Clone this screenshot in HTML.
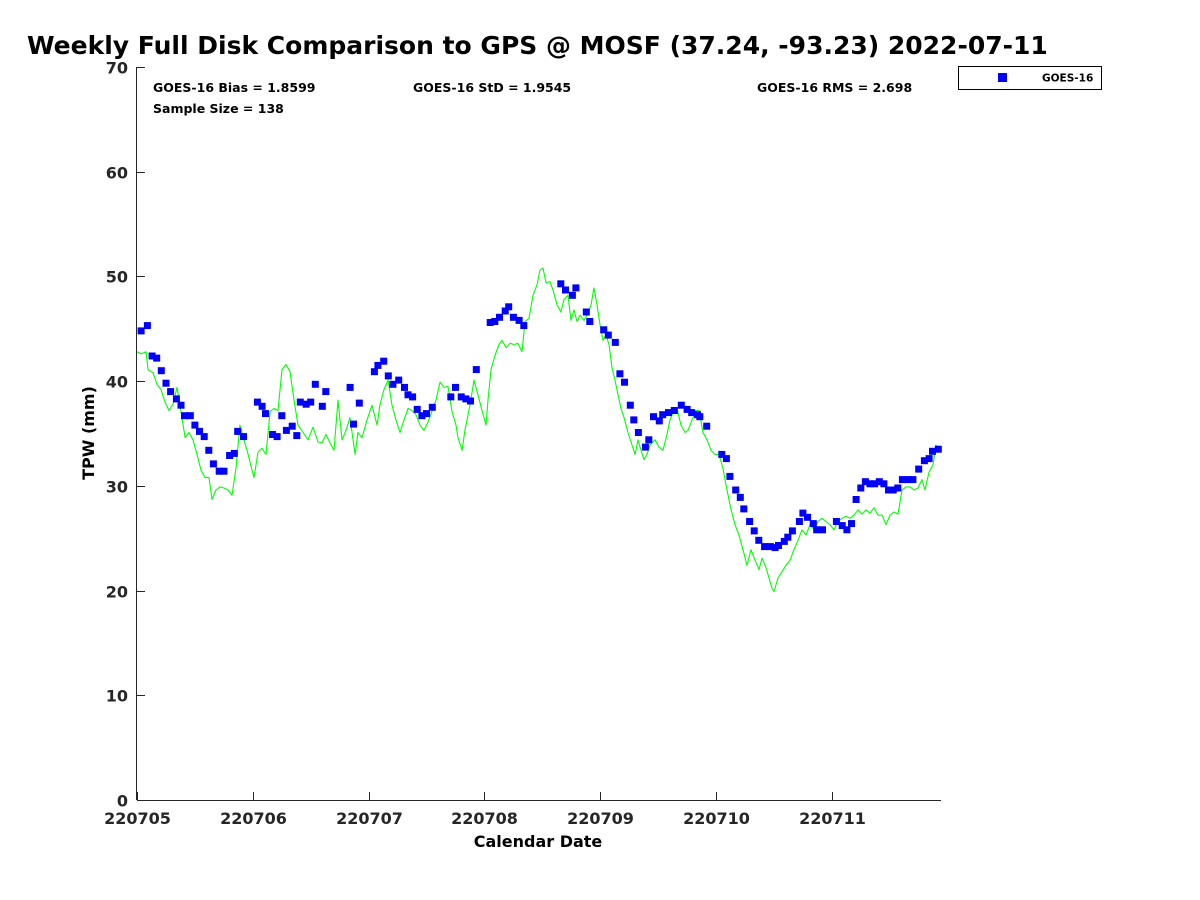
<!DOCTYPE html>
<html><head><meta charset="utf-8"><style>
html,body{margin:0;padding:0;background:#fff;}
svg{display:block;font-family:"DejaVu Sans","Liberation Sans",sans-serif;font-weight:bold;}
</style></head><body>
<svg id="chart" width="1200" height="900" viewBox="0 0 1200 900" xmlns="http://www.w3.org/2000/svg">
<text x="27" y="54" font-size="25" fill="#000">Weekly Full Disk Comparison to GPS @ MOSF (37.24, -93.23) 2022-07-11</text>
<g id="axes"></g>
<g id="series"></g>
<text x="153" y="92" font-size="12.5">GOES-16 Bias = 1.8599</text>
<text x="153" y="113" font-size="12.5">Sample Size = 138</text>
<text x="413" y="92" font-size="12.5">GOES-16 StD = 1.9545</text>
<text x="757" y="92" font-size="12.5">GOES-16 RMS = 2.698</text>
<g>
<rect x="958.5" y="66.5" width="143" height="23" fill="#fff" stroke="#000" stroke-width="1"/>
<rect x="998" y="73" width="9" height="9" fill="#0000ff"/>
<text x="1042" y="81.5" font-size="10.5">GOES-16</text>
</g>
<text x="538" y="847" font-size="16" text-anchor="middle">Calendar Date</text>
<text transform="translate(94,433) rotate(-90)" font-size="16" text-anchor="middle">TPW (mm)</text>
</svg>
<script>
const xTickLabels = ["220705","220706","220707","220708","220709","220710","220711"];
const yTicks = [0,10,20,30,40,50,60,70];
const goesDays = [0.035,0.09,0.13,0.17,0.21,0.25,0.29,0.34,0.38,0.41,0.46,0.50,0.54,0.58,0.62,0.66,0.71,0.75,0.80,0.84,0.87,0.92,1.04,1.08,1.11,1.17,1.21,1.25,1.29,1.34,1.38,1.41,1.46,1.50,1.54,1.60,1.63,1.84,1.87,1.92,2.05,2.08,2.13,2.17,2.21,2.26,2.31,2.34,2.38,2.42,2.46,2.50,2.55,2.71,2.75,2.80,2.84,2.88,2.93,3.05,3.09,3.13,3.18,3.21,3.25,3.30,3.34,3.66,3.70,3.76,3.79,3.88,3.91,4.03,4.07,4.13,4.17,4.21,4.26,4.29,4.33,4.39,4.42,4.46,4.51,4.54,4.59,4.64,4.70,4.75,4.79,4.84,4.86,4.92,5.05,5.09,5.12,5.17,5.21,5.24,5.29,5.33,5.37,5.42,5.47,5.51,5.54,5.59,5.62,5.66,5.72,5.75,5.79,5.84,5.87,5.92,6.04,6.09,6.13,6.17,6.21,6.25,6.29,6.33,6.37,6.41,6.45,6.49,6.53,6.57,6.61,6.66,6.70,6.75,6.80,6.84,6.87,6.92];
const goesVals = [44.8,45.3,42.4,42.2,41.0,39.8,39.0,38.3,37.7,36.7,36.7,35.8,35.2,34.7,33.4,32.1,31.4,31.4,32.9,33.1,35.2,34.7,38.0,37.6,36.9,34.9,34.7,36.7,35.3,35.7,34.8,38.0,37.8,38.0,39.7,37.6,39.0,39.4,35.9,37.9,40.9,41.5,41.9,40.5,39.7,40.1,39.4,38.7,38.5,37.3,36.7,36.9,37.5,38.5,39.4,38.5,38.3,38.1,41.1,45.6,45.7,46.1,46.7,47.1,46.1,45.8,45.3,49.3,48.7,48.2,48.9,46.6,45.7,44.9,44.4,43.7,40.7,39.9,37.7,36.3,35.1,33.7,34.4,36.6,36.2,36.8,37.0,37.2,37.7,37.3,37.0,36.8,36.6,35.7,33.0,32.6,30.9,29.6,28.9,27.8,26.6,25.7,24.8,24.2,24.2,24.1,24.3,24.7,25.1,25.7,26.6,27.4,27.0,26.4,25.8,25.8,26.6,26.2,25.8,26.4,28.7,29.8,30.4,30.2,30.2,30.4,30.2,29.6,29.6,29.8,30.6,30.6,30.6,31.6,32.4,32.6,33.3,33.5];
const gpsDays = [0,0.035,0.078,0.095,0.138,0.173,0.207,0.242,0.276,0.311,0.345,0.380,0.415,0.449,0.484,0.518,0.553,0.587,0.622,0.648,0.682,0.717,0.751,0.786,0.820,0.855,0.889,0.924,0.959,0.993,1.010,1.045,1.079,1.114,1.149,1.183,1.218,1.252,1.287,1.321,1.356,1.390,1.434,1.477,1.520,1.563,1.598,1.632,1.667,1.701,1.736,1.770,1.805,1.839,1.883,1.908,1.943,1.986,2.029,2.073,2.098,2.133,2.168,2.202,2.237,2.271,2.306,2.340,2.375,2.409,2.444,2.478,2.513,2.547,2.582,2.617,2.651,2.686,2.720,2.755,2.772,2.807,2.832,2.876,2.910,2.945,2.979,3.014,3.031,3.057,3.092,3.126,3.152,3.187,3.221,3.256,3.290,3.325,3.351,3.385,3.420,3.454,3.480,3.506,3.532,3.566,3.592,3.627,3.661,3.687,3.722,3.748,3.774,3.800,3.826,3.860,3.895,3.921,3.946,3.972,3.998,4.024,4.050,4.076,4.102,4.128,4.154,4.180,4.206,4.240,4.275,4.301,4.326,4.352,4.378,4.404,4.430,4.473,4.508,4.542,4.577,4.603,4.637,4.663,4.698,4.732,4.758,4.793,4.827,4.853,4.888,4.922,4.957,4.991,5.026,5.060,5.095,5.130,5.164,5.199,5.233,5.268,5.302,5.337,5.371,5.397,5.432,5.458,5.484,5.501,5.535,5.570,5.604,5.639,5.674,5.708,5.743,5.777,5.812,5.846,5.881,5.915,5.950,5.984,6.019,6.054,6.088,6.123,6.157,6.192,6.226,6.261,6.295,6.330,6.364,6.399,6.434,6.468,6.503,6.537,6.572,6.606,6.641,6.675,6.710,6.744,6.779,6.805,6.839,6.874,6.900,6.917,6.943];
const gpsVals = [42.8,42.6,42.8,41.1,40.8,39.7,39.2,38.0,37.2,37.8,39.4,37.1,34.6,35.1,34.4,33.0,31.5,30.8,30.8,28.7,29.6,29.9,29.8,29.6,29.1,31.7,35.8,34.4,33.0,31.5,30.8,33.2,33.6,33.0,37.1,37.4,37.2,41.1,41.6,40.9,38.2,35.8,35.1,34.4,35.6,34.2,34.1,34.9,34.1,33.4,38.2,34.4,35.3,36.5,33.0,35.1,34.6,36.3,37.7,35.8,37.7,39.2,40.1,37.7,36.3,35.1,36.3,37.4,37.2,36.8,35.8,35.3,36.1,37.1,38.2,39.9,39.4,39.5,37.1,35.8,34.6,33.4,35.3,37.7,40.1,38.7,37.2,35.8,38.2,41.1,42.5,43.5,43.9,43.2,43.6,43.5,43.6,42.8,45.7,46.0,48.2,49.2,50.6,50.8,49.4,49.5,48.7,47.3,46.6,47.8,48.2,45.8,46.8,45.7,46.3,45.8,46.5,47.3,48.9,47.3,45.4,43.9,44.4,43.5,41.3,40.1,38.7,37.4,36.5,35.1,33.9,33.0,34.4,33.4,32.5,33.0,33.9,34.4,33.7,33.4,34.9,36.3,37.2,37.4,35.8,35.1,35.3,36.3,37.2,37.2,35.1,34.4,33.4,33.0,33.0,31.7,29.6,27.7,26.3,25.3,23.9,22.4,23.9,22.9,22.0,23.1,22.2,21.2,20.2,19.9,21.2,21.8,22.4,22.9,23.9,24.8,25.8,25.3,26.3,25.8,26.6,26.9,26.6,26.3,25.8,26.6,26.9,27.1,26.9,27.2,27.7,27.3,27.7,27.4,27.9,27.2,27.2,26.3,27.2,27.5,27.3,29.6,29.9,29.9,29.6,29.8,30.6,29.6,31.3,32.0,33.9,33.2,33.6];

const NS = "http://www.w3.org/2000/svg";
const X0 = 137, X1 = 941, Y0 = 800, Y1 = 67;
const xMax = 6.943, yMax = 70;
function xScale(d){ return X0 + d * (X1 - X0) / xMax; }
function yScale(v){ return Y0 - v * (Y0 - Y1) / yMax; }
function mk(tag, attrs, parent){ const e = document.createElementNS(NS, tag); for (const k in attrs) e.setAttribute(k, attrs[k]); parent.appendChild(e); return e; }

const axes = document.getElementById('axes');
const xAxis = mk('line', {x1:X0, y1:Y0+0.5, x2:X1, y2:Y0+0.5, stroke:'#262626', 'stroke-width':1}, axes);


const yAxis = mk('line', {x1:X0-0.5, y1:Y1, x2:X0-0.5, y2:Y0, stroke:'#262626', 'stroke-width':1}, axes);



yTicks.forEach(v => {
  const y = Math.round(yScale(v)) + 0.5;
  mk('line', {x1:X0, y1:y, x2:X0+8, y2:y, stroke:'#262626', 'stroke-width':1}, axes);
  const t = mk('text', {x:X0-9, y:y+6, 'font-size':16, 'text-anchor':'end', fill:'#262626'}, axes);
  t.textContent = v;
  
  
});
xTickLabels.forEach((lab, i) => {
  const x = Math.round(xScale(i)) + 0.5;
  mk('line', {x1:x, y1:Y0, x2:x, y2:Y0-8, stroke:'#262626', 'stroke-width':1}, axes);
  const t = mk('text', {x:x, y:824, 'font-size':16, 'text-anchor':'middle', fill:'#262626'}, axes);
  t.textContent = lab;
  
  
});

const series = document.getElementById('series');
let d = '';
gpsDays.forEach((day, i) => { d += (i ? 'L' : 'M') + xScale(day).toFixed(1) + ',' + yScale(gpsVals[i]).toFixed(1); });
const line = mk('path', {d:d, fill:'none', stroke:'#00ff00', 'stroke-width':1.1, 'stroke-linejoin':'round'}, series);



goesDays.forEach((day, i) => {
  const r = mk('rect', {x:(xScale(day)-3.5).toFixed(1), y:(yScale(goesVals[i])-3.5).toFixed(1), width:7, height:7, fill:'#0000ff'}, series);
  
  
});
</script>
</body></html>
